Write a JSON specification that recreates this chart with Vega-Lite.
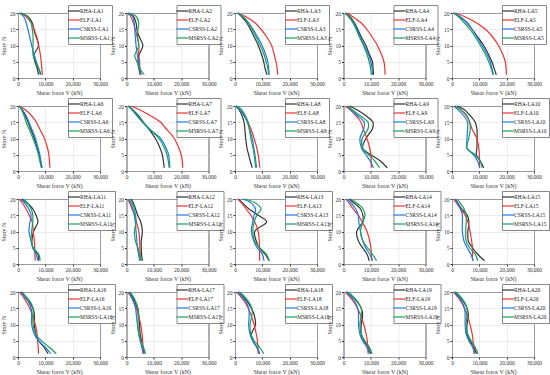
{
"$schema":"https://vega.github.io/schema/vega-lite/v6.json",
"padding":{"left":0,"top":4,"right":0,"bottom":0},
"config":{
"font":"Liberation Serif",
"view":{"stroke":"#333","strokeWidth":1},
"axis":{"labelFont":"Liberation Serif","titleFont":"Liberation Serif","labelFontSize":5.5,"titleFontSize":6,"titleFontWeight":"normal","labelColor":"#333","titleColor":"#333","grid":true,"gridColor":"#e0e0e0","gridWidth":0.6,"domain":false,"tickSize":2,"tickColor":"#333","labelPadding":1,"titlePadding":3,"labelFlush":false},
"legend":{"orient":"none","legendX":50,"legendY":-8,"labelFont":"Liberation Serif","labelFontSize":5.5,"labelColor":"#222","symbolType":"M-2,0H2","symbolSize":36,"symbolStrokeWidth":1.6,"fillColor":"white","strokeColor":"#888","padding":2,"rowPadding":1,"labelOffset":2,"labelLimit":60},
"line":{"strokeWidth":1.2,"interpolate":"catmull-rom"}
},
"data":{"values":[
{"p":1,"s":"RHA","n":1,"v":7500},{"p":1,"s":"RHA","n":3,"v":7000},{"p":1,"s":"RHA","n":5,"v":6200},{"p":1,"s":"RHA","n":7,"v":5800},{"p":1,"s":"RHA","n":10,"v":7500},{"p":1,"s":"RHA","n":13,"v":6500},{"p":1,"s":"RHA","n":15,"v":5800},{"p":1,"s":"RHA","n":17,"v":5200},{"p":1,"s":"RHA","n":19,"v":3500},{"p":1,"s":"RHA","n":20,"v":1000},
{"p":1,"s":"ELF","n":1,"v":8900},{"p":1,"s":"ELF","n":3,"v":8700},{"p":1,"s":"ELF","n":5,"v":8500},{"p":1,"s":"ELF","n":7,"v":8200},{"p":1,"s":"ELF","n":10,"v":7600},{"p":1,"s":"ELF","n":13,"v":6700},{"p":1,"s":"ELF","n":15,"v":5900},{"p":1,"s":"ELF","n":17,"v":4800},{"p":1,"s":"ELF","n":19,"v":2800},{"p":1,"s":"ELF","n":20,"v":500},
{"p":1,"s":"CSRSS","n":1,"v":8200},{"p":1,"s":"CSRSS","n":3,"v":7500},{"p":1,"s":"CSRSS","n":5,"v":6700},{"p":1,"s":"CSRSS","n":7,"v":6000},{"p":1,"s":"CSRSS","n":10,"v":5000},{"p":1,"s":"CSRSS","n":13,"v":4200},{"p":1,"s":"CSRSS","n":15,"v":3600},{"p":1,"s":"CSRSS","n":17,"v":3000},{"p":1,"s":"CSRSS","n":19,"v":2000},{"p":1,"s":"CSRSS","n":20,"v":500},
{"p":1,"s":"MSRSS","n":1,"v":8500},{"p":1,"s":"MSRSS","n":3,"v":7600},{"p":1,"s":"MSRSS","n":5,"v":6500},{"p":1,"s":"MSRSS","n":7,"v":5500},{"p":1,"s":"MSRSS","n":10,"v":5500},{"p":1,"s":"MSRSS","n":13,"v":5500},{"p":1,"s":"MSRSS","n":15,"v":5200},{"p":1,"s":"MSRSS","n":17,"v":4800},{"p":1,"s":"MSRSS","n":19,"v":3500},{"p":1,"s":"MSRSS","n":20,"v":800},
{"p":2,"s":"RHA","n":1,"v":5000},{"p":2,"s":"RHA","n":3,"v":4500},{"p":2,"s":"RHA","n":5,"v":4200},{"p":2,"s":"RHA","n":7,"v":4500},{"p":2,"s":"RHA","n":10,"v":6000},{"p":2,"s":"RHA","n":13,"v":4500},{"p":2,"s":"RHA","n":15,"v":3800},{"p":2,"s":"RHA","n":17,"v":3500},{"p":2,"s":"RHA","n":19,"v":2500},{"p":2,"s":"RHA","n":20,"v":500},
{"p":2,"s":"ELF","n":1,"v":5000},{"p":2,"s":"ELF","n":3,"v":4900},{"p":2,"s":"ELF","n":5,"v":4800},{"p":2,"s":"ELF","n":7,"v":4500},{"p":2,"s":"ELF","n":10,"v":4500},{"p":2,"s":"ELF","n":13,"v":3800},{"p":2,"s":"ELF","n":15,"v":3200},{"p":2,"s":"ELF","n":17,"v":2500},{"p":2,"s":"ELF","n":19,"v":1500},{"p":2,"s":"ELF","n":20,"v":300},
{"p":2,"s":"CSRSS","n":1,"v":5500},{"p":2,"s":"CSRSS","n":3,"v":4800},{"p":2,"s":"CSRSS","n":5,"v":4500},{"p":2,"s":"CSRSS","n":7,"v":4000},{"p":2,"s":"CSRSS","n":10,"v":3500},{"p":2,"s":"CSRSS","n":13,"v":3200},{"p":2,"s":"CSRSS","n":15,"v":3000},{"p":2,"s":"CSRSS","n":17,"v":2800},{"p":2,"s":"CSRSS","n":19,"v":2200},{"p":2,"s":"CSRSS","n":20,"v":500},
{"p":2,"s":"MSRSS","n":1,"v":6500},{"p":2,"s":"MSRSS","n":3,"v":4800},{"p":2,"s":"MSRSS","n":5,"v":3800},{"p":2,"s":"MSRSS","n":7,"v":3000},{"p":2,"s":"MSRSS","n":10,"v":4500},{"p":2,"s":"MSRSS","n":13,"v":4000},{"p":2,"s":"MSRSS","n":15,"v":4200},{"p":2,"s":"MSRSS","n":17,"v":4500},{"p":2,"s":"MSRSS","n":19,"v":3500},{"p":2,"s":"MSRSS","n":20,"v":1000},
{"p":3,"s":"RHA","n":1,"v":11700},{"p":3,"s":"RHA","n":3,"v":11000},{"p":3,"s":"RHA","n":5,"v":10500},{"p":3,"s":"RHA","n":7,"v":9800},{"p":3,"s":"RHA","n":10,"v":8500},{"p":3,"s":"RHA","n":13,"v":6800},{"p":3,"s":"RHA","n":15,"v":5600},{"p":3,"s":"RHA","n":17,"v":4300},{"p":3,"s":"RHA","n":19,"v":2300},{"p":3,"s":"RHA","n":20,"v":1000},
{"p":3,"s":"ELF","n":1,"v":15600},{"p":3,"s":"ELF","n":3,"v":15400},{"p":3,"s":"ELF","n":5,"v":15000},{"p":3,"s":"ELF","n":7,"v":14400},{"p":3,"s":"ELF","n":10,"v":13400},{"p":3,"s":"ELF","n":13,"v":11300},{"p":3,"s":"ELF","n":15,"v":9500},{"p":3,"s":"ELF","n":17,"v":7300},{"p":3,"s":"ELF","n":19,"v":3600},{"p":3,"s":"ELF","n":20,"v":1000},
{"p":3,"s":"CSRSS","n":1,"v":12500},{"p":3,"s":"CSRSS","n":3,"v":12300},{"p":3,"s":"CSRSS","n":5,"v":12000},{"p":3,"s":"CSRSS","n":7,"v":11300},{"p":3,"s":"CSRSS","n":10,"v":9900},{"p":3,"s":"CSRSS","n":13,"v":8000},{"p":3,"s":"CSRSS","n":15,"v":6600},{"p":3,"s":"CSRSS","n":17,"v":4900},{"p":3,"s":"CSRSS","n":19,"v":2600},{"p":3,"s":"CSRSS","n":20,"v":800},
{"p":3,"s":"MSRSS","n":1,"v":12300},{"p":3,"s":"MSRSS","n":3,"v":12000},{"p":3,"s":"MSRSS","n":5,"v":11400},{"p":3,"s":"MSRSS","n":7,"v":10700},{"p":3,"s":"MSRSS","n":10,"v":9200},{"p":3,"s":"MSRSS","n":13,"v":7500},{"p":3,"s":"MSRSS","n":15,"v":6200},{"p":3,"s":"MSRSS","n":17,"v":4900},{"p":3,"s":"MSRSS","n":19,"v":2800},{"p":3,"s":"MSRSS","n":20,"v":1000},
{"p":4,"s":"RHA","n":1,"v":11000},{"p":4,"s":"RHA","n":3,"v":10800},{"p":4,"s":"RHA","n":5,"v":10600},{"p":4,"s":"RHA","n":7,"v":9600},{"p":4,"s":"RHA","n":10,"v":8200},{"p":4,"s":"RHA","n":13,"v":6300},{"p":4,"s":"RHA","n":15,"v":5200},{"p":4,"s":"RHA","n":17,"v":4000},{"p":4,"s":"RHA","n":19,"v":2200},{"p":4,"s":"RHA","n":20,"v":800},
{"p":4,"s":"ELF","n":1,"v":15200},{"p":4,"s":"ELF","n":3,"v":15100},{"p":4,"s":"ELF","n":5,"v":14800},{"p":4,"s":"ELF","n":7,"v":14000},{"p":4,"s":"ELF","n":10,"v":12400},{"p":4,"s":"ELF","n":13,"v":10200},{"p":4,"s":"ELF","n":15,"v":8500},{"p":4,"s":"ELF","n":17,"v":6400},{"p":4,"s":"ELF","n":19,"v":3100},{"p":4,"s":"ELF","n":20,"v":1500},
{"p":4,"s":"CSRSS","n":1,"v":10600},{"p":4,"s":"CSRSS","n":3,"v":10400},{"p":4,"s":"CSRSS","n":5,"v":10000},{"p":4,"s":"CSRSS","n":7,"v":9200},{"p":4,"s":"CSRSS","n":10,"v":7600},{"p":4,"s":"CSRSS","n":13,"v":5900},{"p":4,"s":"CSRSS","n":15,"v":4900},{"p":4,"s":"CSRSS","n":17,"v":3700},{"p":4,"s":"CSRSS","n":19,"v":1800},{"p":4,"s":"CSRSS","n":20,"v":500},
{"p":4,"s":"MSRSS","n":1,"v":10200},{"p":4,"s":"MSRSS","n":3,"v":9900},{"p":4,"s":"MSRSS","n":5,"v":9400},{"p":4,"s":"MSRSS","n":7,"v":8700},{"p":4,"s":"MSRSS","n":10,"v":7300},{"p":4,"s":"MSRSS","n":13,"v":5600},{"p":4,"s":"MSRSS","n":15,"v":4600},{"p":4,"s":"MSRSS","n":17,"v":3400},{"p":4,"s":"MSRSS","n":19,"v":1800},{"p":4,"s":"MSRSS","n":20,"v":600},
{"p":5,"s":"RHA","n":1,"v":16200},{"p":5,"s":"RHA","n":3,"v":15400},{"p":5,"s":"RHA","n":5,"v":14600},{"p":5,"s":"RHA","n":7,"v":13500},{"p":5,"s":"RHA","n":10,"v":11600},{"p":5,"s":"RHA","n":13,"v":9100},{"p":5,"s":"RHA","n":15,"v":7300},{"p":5,"s":"RHA","n":17,"v":5500},{"p":5,"s":"RHA","n":19,"v":2400},{"p":5,"s":"RHA","n":20,"v":500},
{"p":5,"s":"ELF","n":1,"v":19900},{"p":5,"s":"ELF","n":3,"v":19800},{"p":5,"s":"ELF","n":5,"v":19500},{"p":5,"s":"ELF","n":7,"v":18700},{"p":5,"s":"ELF","n":10,"v":17000},{"p":5,"s":"ELF","n":13,"v":14500},{"p":5,"s":"ELF","n":15,"v":12200},{"p":5,"s":"ELF","n":17,"v":8900},{"p":5,"s":"ELF","n":19,"v":4300},{"p":5,"s":"ELF","n":20,"v":1200},
{"p":5,"s":"CSRSS","n":1,"v":15200},{"p":5,"s":"CSRSS","n":3,"v":14600},{"p":5,"s":"CSRSS","n":5,"v":14000},{"p":5,"s":"CSRSS","n":7,"v":13000},{"p":5,"s":"CSRSS","n":10,"v":11000},{"p":5,"s":"CSRSS","n":13,"v":8800},{"p":5,"s":"CSRSS","n":15,"v":7300},{"p":5,"s":"CSRSS","n":17,"v":5500},{"p":5,"s":"CSRSS","n":19,"v":2800},{"p":5,"s":"CSRSS","n":20,"v":600},
{"p":5,"s":"MSRSS","n":1,"v":15000},{"p":5,"s":"MSRSS","n":3,"v":14300},{"p":5,"s":"MSRSS","n":5,"v":13400},{"p":5,"s":"MSRSS","n":7,"v":12400},{"p":5,"s":"MSRSS","n":10,"v":10400},{"p":5,"s":"MSRSS","n":13,"v":8200},{"p":5,"s":"MSRSS","n":15,"v":6500},{"p":5,"s":"MSRSS","n":17,"v":4500},{"p":5,"s":"MSRSS","n":19,"v":2200},{"p":5,"s":"MSRSS","n":20,"v":600},
{"p":6,"s":"RHA","n":1,"v":8800},{"p":6,"s":"RHA","n":3,"v":8200},{"p":6,"s":"RHA","n":5,"v":7700},{"p":6,"s":"RHA","n":7,"v":7000},{"p":6,"s":"RHA","n":10,"v":6000},{"p":6,"s":"RHA","n":13,"v":4600},{"p":6,"s":"RHA","n":15,"v":3700},{"p":6,"s":"RHA","n":17,"v":2700},{"p":6,"s":"RHA","n":19,"v":1400},{"p":6,"s":"RHA","n":20,"v":500},
{"p":6,"s":"ELF","n":1,"v":11700},{"p":6,"s":"ELF","n":3,"v":11500},{"p":6,"s":"ELF","n":5,"v":11300},{"p":6,"s":"ELF","n":7,"v":10800},{"p":6,"s":"ELF","n":10,"v":9700},{"p":6,"s":"ELF","n":13,"v":7900},{"p":6,"s":"ELF","n":15,"v":6700},{"p":6,"s":"ELF","n":17,"v":5000},{"p":6,"s":"ELF","n":19,"v":2400},{"p":6,"s":"ELF","n":20,"v":400},
{"p":6,"s":"CSRSS","n":1,"v":8800},{"p":6,"s":"CSRSS","n":3,"v":8400},{"p":6,"s":"CSRSS","n":5,"v":8000},{"p":6,"s":"CSRSS","n":7,"v":7400},{"p":6,"s":"CSRSS","n":10,"v":6400},{"p":6,"s":"CSRSS","n":13,"v":5000},{"p":6,"s":"CSRSS","n":15,"v":4000},{"p":6,"s":"CSRSS","n":17,"v":3000},{"p":6,"s":"CSRSS","n":19,"v":1500},{"p":6,"s":"CSRSS","n":20,"v":400},
{"p":6,"s":"MSRSS","n":1,"v":8500},{"p":6,"s":"MSRSS","n":3,"v":8000},{"p":6,"s":"MSRSS","n":5,"v":7500},{"p":6,"s":"MSRSS","n":7,"v":6800},{"p":6,"s":"MSRSS","n":10,"v":5500},{"p":6,"s":"MSRSS","n":13,"v":4000},{"p":6,"s":"MSRSS","n":15,"v":3000},{"p":6,"s":"MSRSS","n":17,"v":2200},{"p":6,"s":"MSRSS","n":19,"v":1200},{"p":6,"s":"MSRSS","n":20,"v":400},
{"p":7,"s":"RHA","n":1,"v":13800},{"p":7,"s":"RHA","n":3,"v":13500},{"p":7,"s":"RHA","n":5,"v":13100},{"p":7,"s":"RHA","n":7,"v":12300},{"p":7,"s":"RHA","n":10,"v":10600},{"p":7,"s":"RHA","n":13,"v":8100},{"p":7,"s":"RHA","n":15,"v":6200},{"p":7,"s":"RHA","n":17,"v":4400},{"p":7,"s":"RHA","n":19,"v":2100},{"p":7,"s":"RHA","n":20,"v":800},
{"p":7,"s":"ELF","n":1,"v":20600},{"p":7,"s":"ELF","n":3,"v":20400},{"p":7,"s":"ELF","n":5,"v":20000},{"p":7,"s":"ELF","n":7,"v":19200},{"p":7,"s":"ELF","n":10,"v":17500},{"p":7,"s":"ELF","n":13,"v":14500},{"p":7,"s":"ELF","n":15,"v":12500},{"p":7,"s":"ELF","n":17,"v":8800},{"p":7,"s":"ELF","n":19,"v":4400},{"p":7,"s":"ELF","n":20,"v":1600},
{"p":7,"s":"CSRSS","n":1,"v":15900},{"p":7,"s":"CSRSS","n":3,"v":15700},{"p":7,"s":"CSRSS","n":5,"v":15400},{"p":7,"s":"CSRSS","n":7,"v":14500},{"p":7,"s":"CSRSS","n":10,"v":12500},{"p":7,"s":"CSRSS","n":13,"v":8100},{"p":7,"s":"CSRSS","n":15,"v":5900},{"p":7,"s":"CSRSS","n":17,"v":3800},{"p":7,"s":"CSRSS","n":19,"v":1800},{"p":7,"s":"CSRSS","n":20,"v":500},
{"p":7,"s":"MSRSS","n":1,"v":15600},{"p":7,"s":"MSRSS","n":3,"v":15300},{"p":7,"s":"MSRSS","n":5,"v":14800},{"p":7,"s":"MSRSS","n":7,"v":13900},{"p":7,"s":"MSRSS","n":10,"v":11900},{"p":7,"s":"MSRSS","n":13,"v":8400},{"p":7,"s":"MSRSS","n":15,"v":6000},{"p":7,"s":"MSRSS","n":17,"v":4000},{"p":7,"s":"MSRSS","n":19,"v":2000},{"p":7,"s":"MSRSS","n":20,"v":600},
{"p":8,"s":"RHA","n":1,"v":6300},{"p":8,"s":"RHA","n":3,"v":5600},{"p":8,"s":"RHA","n":5,"v":5000},{"p":8,"s":"RHA","n":7,"v":4400},{"p":8,"s":"RHA","n":10,"v":3900},{"p":8,"s":"RHA","n":13,"v":3600},{"p":8,"s":"RHA","n":15,"v":3300},{"p":8,"s":"RHA","n":17,"v":2600},{"p":8,"s":"RHA","n":19,"v":1300},{"p":8,"s":"RHA","n":20,"v":300},
{"p":8,"s":"ELF","n":1,"v":9100},{"p":8,"s":"ELF","n":3,"v":8800},{"p":8,"s":"ELF","n":5,"v":8500},{"p":8,"s":"ELF","n":7,"v":8000},{"p":8,"s":"ELF","n":10,"v":7000},{"p":8,"s":"ELF","n":13,"v":5800},{"p":8,"s":"ELF","n":15,"v":4800},{"p":8,"s":"ELF","n":17,"v":3500},{"p":8,"s":"ELF","n":19,"v":1600},{"p":8,"s":"ELF","n":20,"v":400},
{"p":8,"s":"CSRSS","n":1,"v":7900},{"p":8,"s":"CSRSS","n":3,"v":7600},{"p":8,"s":"CSRSS","n":5,"v":7300},{"p":8,"s":"CSRSS","n":7,"v":6900},{"p":8,"s":"CSRSS","n":10,"v":6300},{"p":8,"s":"CSRSS","n":13,"v":5300},{"p":8,"s":"CSRSS","n":15,"v":4500},{"p":8,"s":"CSRSS","n":17,"v":3300},{"p":8,"s":"CSRSS","n":19,"v":1500},{"p":8,"s":"CSRSS","n":20,"v":400},
{"p":8,"s":"MSRSS","n":1,"v":7500},{"p":8,"s":"MSRSS","n":3,"v":7300},{"p":8,"s":"MSRSS","n":5,"v":7000},{"p":8,"s":"MSRSS","n":7,"v":6600},{"p":8,"s":"MSRSS","n":10,"v":5800},{"p":8,"s":"MSRSS","n":13,"v":5200},{"p":8,"s":"MSRSS","n":15,"v":4800},{"p":8,"s":"MSRSS","n":17,"v":3800},{"p":8,"s":"MSRSS","n":19,"v":2300},{"p":8,"s":"MSRSS","n":20,"v":600},
{"p":9,"s":"RHA","n":1,"v":16000},{"p":9,"s":"RHA","n":3,"v":13600},{"p":9,"s":"RHA","n":5,"v":10000},{"p":9,"s":"RHA","n":7,"v":7000},{"p":9,"s":"RHA","n":10,"v":8200},{"p":9,"s":"RHA","n":13,"v":10600},{"p":9,"s":"RHA","n":15,"v":10800},{"p":9,"s":"RHA","n":17,"v":8200},{"p":9,"s":"RHA","n":19,"v":4600},{"p":9,"s":"RHA","n":20,"v":2200},
{"p":9,"s":"ELF","n":1,"v":10200},{"p":9,"s":"ELF","n":3,"v":10100},{"p":9,"s":"ELF","n":5,"v":10000},{"p":9,"s":"ELF","n":7,"v":9600},{"p":9,"s":"ELF","n":10,"v":8600},{"p":9,"s":"ELF","n":13,"v":7200},{"p":9,"s":"ELF","n":15,"v":6400},{"p":9,"s":"ELF","n":17,"v":4600},{"p":9,"s":"ELF","n":19,"v":2200},{"p":9,"s":"ELF","n":20,"v":400},
{"p":9,"s":"CSRSS","n":1,"v":11000},{"p":9,"s":"CSRSS","n":3,"v":9800},{"p":9,"s":"CSRSS","n":5,"v":8200},{"p":9,"s":"CSRSS","n":7,"v":6600},{"p":9,"s":"CSRSS","n":10,"v":6000},{"p":9,"s":"CSRSS","n":13,"v":7400},{"p":9,"s":"CSRSS","n":15,"v":7600},{"p":9,"s":"CSRSS","n":17,"v":5200},{"p":9,"s":"CSRSS","n":19,"v":2500},{"p":9,"s":"CSRSS","n":20,"v":1300},
{"p":9,"s":"MSRSS","n":1,"v":13200},{"p":9,"s":"MSRSS","n":3,"v":11500},{"p":9,"s":"MSRSS","n":5,"v":9200},{"p":9,"s":"MSRSS","n":7,"v":7000},{"p":9,"s":"MSRSS","n":10,"v":6800},{"p":9,"s":"MSRSS","n":13,"v":9000},{"p":9,"s":"MSRSS","n":15,"v":9000},{"p":9,"s":"MSRSS","n":17,"v":6100},{"p":9,"s":"MSRSS","n":19,"v":3000},{"p":9,"s":"MSRSS","n":20,"v":1600},
{"p":10,"s":"RHA","n":1,"v":11600},{"p":10,"s":"RHA","n":3,"v":10400},{"p":10,"s":"RHA","n":5,"v":8900},{"p":10,"s":"RHA","n":7,"v":9100},{"p":10,"s":"RHA","n":10,"v":9200},{"p":10,"s":"RHA","n":13,"v":9100},{"p":10,"s":"RHA","n":15,"v":8500},{"p":10,"s":"RHA","n":17,"v":6700},{"p":10,"s":"RHA","n":19,"v":4300},{"p":10,"s":"RHA","n":20,"v":1800},
{"p":10,"s":"ELF","n":1,"v":10100},{"p":10,"s":"ELF","n":3,"v":10100},{"p":10,"s":"ELF","n":5,"v":10000},{"p":10,"s":"ELF","n":7,"v":9800},{"p":10,"s":"ELF","n":10,"v":9100},{"p":10,"s":"ELF","n":13,"v":7300},{"p":10,"s":"ELF","n":15,"v":6500},{"p":10,"s":"ELF","n":17,"v":5200},{"p":10,"s":"ELF","n":19,"v":3000},{"p":10,"s":"ELF","n":20,"v":1200},
{"p":10,"s":"CSRSS","n":1,"v":10100},{"p":10,"s":"CSRSS","n":3,"v":9400},{"p":10,"s":"CSRSS","n":5,"v":7900},{"p":10,"s":"CSRSS","n":7,"v":5500},{"p":10,"s":"CSRSS","n":10,"v":5500},{"p":10,"s":"CSRSS","n":13,"v":5700},{"p":10,"s":"CSRSS","n":15,"v":5700},{"p":10,"s":"CSRSS","n":17,"v":4300},{"p":10,"s":"CSRSS","n":19,"v":2000},{"p":10,"s":"CSRSS","n":20,"v":600},
{"p":10,"s":"MSRSS","n":1,"v":11000},{"p":10,"s":"MSRSS","n":3,"v":10400},{"p":10,"s":"MSRSS","n":5,"v":8500},{"p":10,"s":"MSRSS","n":7,"v":5500},{"p":10,"s":"MSRSS","n":10,"v":6100},{"p":10,"s":"MSRSS","n":13,"v":6700},{"p":10,"s":"MSRSS","n":15,"v":6500},{"p":10,"s":"MSRSS","n":17,"v":5500},{"p":10,"s":"MSRSS","n":19,"v":3000},{"p":10,"s":"MSRSS","n":20,"v":1200},
{"p":11,"s":"RHA","n":1,"v":7600},{"p":11,"s":"RHA","n":3,"v":7300},{"p":11,"s":"RHA","n":5,"v":5400},{"p":11,"s":"RHA","n":7,"v":5100},{"p":11,"s":"RHA","n":10,"v":5700},{"p":11,"s":"RHA","n":13,"v":7300},{"p":11,"s":"RHA","n":15,"v":6600},{"p":11,"s":"RHA","n":17,"v":5400},{"p":11,"s":"RHA","n":19,"v":3000},{"p":11,"s":"RHA","n":20,"v":1400},
{"p":11,"s":"ELF","n":1,"v":6300},{"p":11,"s":"ELF","n":3,"v":6200},{"p":11,"s":"ELF","n":5,"v":6100},{"p":11,"s":"ELF","n":7,"v":6000},{"p":11,"s":"ELF","n":10,"v":5600},{"p":11,"s":"ELF","n":13,"v":5200},{"p":11,"s":"ELF","n":15,"v":4100},{"p":11,"s":"ELF","n":17,"v":2900},{"p":11,"s":"ELF","n":19,"v":1400},{"p":11,"s":"ELF","n":20,"v":400},
{"p":11,"s":"CSRSS","n":1,"v":7300},{"p":11,"s":"CSRSS","n":3,"v":6600},{"p":11,"s":"CSRSS","n":5,"v":5400},{"p":11,"s":"CSRSS","n":7,"v":4800},{"p":11,"s":"CSRSS","n":10,"v":4000},{"p":11,"s":"CSRSS","n":13,"v":4400},{"p":11,"s":"CSRSS","n":15,"v":4800},{"p":11,"s":"CSRSS","n":17,"v":3900},{"p":11,"s":"CSRSS","n":19,"v":2200},{"p":11,"s":"CSRSS","n":20,"v":1000},
{"p":11,"s":"MSRSS","n":1,"v":8100},{"p":11,"s":"MSRSS","n":3,"v":7600},{"p":11,"s":"MSRSS","n":5,"v":5600},{"p":11,"s":"MSRSS","n":7,"v":4800},{"p":11,"s":"MSRSS","n":10,"v":5000},{"p":11,"s":"MSRSS","n":13,"v":5400},{"p":11,"s":"MSRSS","n":15,"v":5400},{"p":11,"s":"MSRSS","n":17,"v":4800},{"p":11,"s":"MSRSS","n":19,"v":3200},{"p":11,"s":"MSRSS","n":20,"v":1900},
{"p":12,"s":"RHA","n":1,"v":5800},{"p":12,"s":"RHA","n":3,"v":5500},{"p":12,"s":"RHA","n":5,"v":5400},{"p":12,"s":"RHA","n":7,"v":5400},{"p":12,"s":"RHA","n":10,"v":5800},{"p":12,"s":"RHA","n":13,"v":5200},{"p":12,"s":"RHA","n":15,"v":4100},{"p":12,"s":"RHA","n":17,"v":3300},{"p":12,"s":"RHA","n":19,"v":2400},{"p":12,"s":"RHA","n":20,"v":1600},
{"p":12,"s":"ELF","n":1,"v":5000},{"p":12,"s":"ELF","n":3,"v":5000},{"p":12,"s":"ELF","n":5,"v":4900},{"p":12,"s":"ELF","n":7,"v":4800},{"p":12,"s":"ELF","n":10,"v":4500},{"p":12,"s":"ELF","n":13,"v":3600},{"p":12,"s":"ELF","n":15,"v":2900},{"p":12,"s":"ELF","n":17,"v":2000},{"p":12,"s":"ELF","n":19,"v":1000},{"p":12,"s":"ELF","n":20,"v":400},
{"p":12,"s":"CSRSS","n":1,"v":4800},{"p":12,"s":"CSRSS","n":3,"v":4400},{"p":12,"s":"CSRSS","n":5,"v":4000},{"p":12,"s":"CSRSS","n":7,"v":3800},{"p":12,"s":"CSRSS","n":10,"v":3500},{"p":12,"s":"CSRSS","n":13,"v":3200},{"p":12,"s":"CSRSS","n":15,"v":2900},{"p":12,"s":"CSRSS","n":17,"v":2300},{"p":12,"s":"CSRSS","n":19,"v":1500},{"p":12,"s":"CSRSS","n":20,"v":800},
{"p":12,"s":"MSRSS","n":1,"v":5400},{"p":12,"s":"MSRSS","n":3,"v":4800},{"p":12,"s":"MSRSS","n":5,"v":4200},{"p":12,"s":"MSRSS","n":7,"v":3300},{"p":12,"s":"MSRSS","n":10,"v":2900},{"p":12,"s":"MSRSS","n":13,"v":3500},{"p":12,"s":"MSRSS","n":15,"v":3300},{"p":12,"s":"MSRSS","n":17,"v":2900},{"p":12,"s":"MSRSS","n":19,"v":2000},{"p":12,"s":"MSRSS","n":20,"v":1300},
{"p":13,"s":"RHA","n":1,"v":12500},{"p":13,"s":"RHA","n":3,"v":11000},{"p":13,"s":"RHA","n":5,"v":8800},{"p":13,"s":"RHA","n":7,"v":7800},{"p":13,"s":"RHA","n":10,"v":7200},{"p":13,"s":"RHA","n":13,"v":11600},{"p":13,"s":"RHA","n":15,"v":8500},{"p":13,"s":"RHA","n":17,"v":5000},{"p":13,"s":"RHA","n":19,"v":2500},{"p":13,"s":"RHA","n":20,"v":1200},
{"p":13,"s":"ELF","n":1,"v":9000},{"p":13,"s":"ELF","n":3,"v":9000},{"p":13,"s":"ELF","n":5,"v":9000},{"p":13,"s":"ELF","n":7,"v":8900},{"p":13,"s":"ELF","n":10,"v":8500},{"p":13,"s":"ELF","n":13,"v":7200},{"p":13,"s":"ELF","n":15,"v":5800},{"p":13,"s":"ELF","n":17,"v":4000},{"p":13,"s":"ELF","n":19,"v":2200},{"p":13,"s":"ELF","n":20,"v":1000},
{"p":13,"s":"CSRSS","n":1,"v":10600},{"p":13,"s":"CSRSS","n":3,"v":10000},{"p":13,"s":"CSRSS","n":5,"v":8100},{"p":13,"s":"CSRSS","n":7,"v":6900},{"p":13,"s":"CSRSS","n":10,"v":6000},{"p":13,"s":"CSRSS","n":13,"v":6500},{"p":13,"s":"CSRSS","n":15,"v":7000},{"p":13,"s":"CSRSS","n":17,"v":7500},{"p":13,"s":"CSRSS","n":19,"v":5500},{"p":13,"s":"CSRSS","n":20,"v":2500},
{"p":13,"s":"MSRSS","n":1,"v":12500},{"p":13,"s":"MSRSS","n":3,"v":11500},{"p":13,"s":"MSRSS","n":5,"v":9000},{"p":13,"s":"MSRSS","n":7,"v":7200},{"p":13,"s":"MSRSS","n":10,"v":6500},{"p":13,"s":"MSRSS","n":13,"v":7000},{"p":13,"s":"MSRSS","n":15,"v":8000},{"p":13,"s":"MSRSS","n":17,"v":9500},{"p":13,"s":"MSRSS","n":19,"v":7000},{"p":13,"s":"MSRSS","n":20,"v":3100},
{"p":14,"s":"RHA","n":1,"v":9400},{"p":14,"s":"RHA","n":3,"v":8600},{"p":14,"s":"RHA","n":5,"v":7000},{"p":14,"s":"RHA","n":7,"v":5500},{"p":14,"s":"RHA","n":10,"v":4800},{"p":14,"s":"RHA","n":13,"v":7100},{"p":14,"s":"RHA","n":15,"v":7100},{"p":14,"s":"RHA","n":17,"v":6200},{"p":14,"s":"RHA","n":19,"v":3500},{"p":14,"s":"RHA","n":20,"v":2100},
{"p":14,"s":"ELF","n":1,"v":10400},{"p":14,"s":"ELF","n":3,"v":10200},{"p":14,"s":"ELF","n":5,"v":10000},{"p":14,"s":"ELF","n":7,"v":9600},{"p":14,"s":"ELF","n":10,"v":8600},{"p":14,"s":"ELF","n":13,"v":6800},{"p":14,"s":"ELF","n":15,"v":5400},{"p":14,"s":"ELF","n":17,"v":3500},{"p":14,"s":"ELF","n":19,"v":1800},{"p":14,"s":"ELF","n":20,"v":900},
{"p":14,"s":"CSRSS","n":1,"v":10600},{"p":14,"s":"CSRSS","n":3,"v":9600},{"p":14,"s":"CSRSS","n":5,"v":8100},{"p":14,"s":"CSRSS","n":7,"v":7100},{"p":14,"s":"CSRSS","n":10,"v":6200},{"p":14,"s":"CSRSS","n":13,"v":5600},{"p":14,"s":"CSRSS","n":15,"v":5400},{"p":14,"s":"CSRSS","n":17,"v":4400},{"p":14,"s":"CSRSS","n":19,"v":2500},{"p":14,"s":"CSRSS","n":20,"v":1200},
{"p":14,"s":"MSRSS","n":1,"v":12100},{"p":14,"s":"MSRSS","n":3,"v":10600},{"p":14,"s":"MSRSS","n":5,"v":8800},{"p":14,"s":"MSRSS","n":7,"v":7100},{"p":14,"s":"MSRSS","n":10,"v":6200},{"p":14,"s":"MSRSS","n":13,"v":7100},{"p":14,"s":"MSRSS","n":15,"v":7900},{"p":14,"s":"MSRSS","n":17,"v":7100},{"p":14,"s":"MSRSS","n":19,"v":4500},{"p":14,"s":"MSRSS","n":20,"v":2500},
{"p":15,"s":"RHA","n":1,"v":11900},{"p":15,"s":"RHA","n":3,"v":9400},{"p":15,"s":"RHA","n":5,"v":7500},{"p":15,"s":"RHA","n":7,"v":6000},{"p":15,"s":"RHA","n":10,"v":5800},{"p":15,"s":"RHA","n":13,"v":6200},{"p":15,"s":"RHA","n":15,"v":5600},{"p":15,"s":"RHA","n":17,"v":3500},{"p":15,"s":"RHA","n":19,"v":2000},{"p":15,"s":"RHA","n":20,"v":1200},
{"p":15,"s":"ELF","n":1,"v":7500},{"p":15,"s":"ELF","n":3,"v":7500},{"p":15,"s":"ELF","n":5,"v":7500},{"p":15,"s":"ELF","n":7,"v":7200},{"p":15,"s":"ELF","n":10,"v":6600},{"p":15,"s":"ELF","n":13,"v":5800},{"p":15,"s":"ELF","n":15,"v":4800},{"p":15,"s":"ELF","n":17,"v":3100},{"p":15,"s":"ELF","n":19,"v":1400},{"p":15,"s":"ELF","n":20,"v":600},
{"p":15,"s":"CSRSS","n":1,"v":7800},{"p":15,"s":"CSRSS","n":3,"v":6900},{"p":15,"s":"CSRSS","n":5,"v":5600},{"p":15,"s":"CSRSS","n":7,"v":4400},{"p":15,"s":"CSRSS","n":10,"v":3800},{"p":15,"s":"CSRSS","n":13,"v":3800},{"p":15,"s":"CSRSS","n":15,"v":3800},{"p":15,"s":"CSRSS","n":17,"v":3100},{"p":15,"s":"CSRSS","n":19,"v":1800},{"p":15,"s":"CSRSS","n":20,"v":1000},
{"p":15,"s":"MSRSS","n":1,"v":9400},{"p":15,"s":"MSRSS","n":3,"v":8500},{"p":15,"s":"MSRSS","n":5,"v":6500},{"p":15,"s":"MSRSS","n":7,"v":5200},{"p":15,"s":"MSRSS","n":10,"v":5000},{"p":15,"s":"MSRSS","n":13,"v":5200},{"p":15,"s":"MSRSS","n":15,"v":5200},{"p":15,"s":"MSRSS","n":17,"v":4400},{"p":15,"s":"MSRSS","n":19,"v":2800},{"p":15,"s":"MSRSS","n":20,"v":1900},
{"p":16,"s":"RHA","n":1,"v":11000},{"p":16,"s":"RHA","n":3,"v":9500},{"p":16,"s":"RHA","n":5,"v":7500},{"p":16,"s":"RHA","n":7,"v":6500},{"p":16,"s":"RHA","n":10,"v":6000},{"p":16,"s":"RHA","n":13,"v":6000},{"p":16,"s":"RHA","n":15,"v":5500},{"p":16,"s":"RHA","n":17,"v":4000},{"p":16,"s":"RHA","n":19,"v":2000},{"p":16,"s":"RHA","n":20,"v":1000},
{"p":16,"s":"ELF","n":1,"v":7500},{"p":16,"s":"ELF","n":3,"v":7400},{"p":16,"s":"ELF","n":5,"v":7200},{"p":16,"s":"ELF","n":7,"v":7000},{"p":16,"s":"ELF","n":10,"v":6300},{"p":16,"s":"ELF","n":13,"v":5200},{"p":16,"s":"ELF","n":15,"v":4300},{"p":16,"s":"ELF","n":17,"v":3000},{"p":16,"s":"ELF","n":19,"v":1500},{"p":16,"s":"ELF","n":20,"v":500},
{"p":16,"s":"CSRSS","n":1,"v":12000},{"p":16,"s":"CSRSS","n":3,"v":10000},{"p":16,"s":"CSRSS","n":5,"v":7500},{"p":16,"s":"CSRSS","n":7,"v":6000},{"p":16,"s":"CSRSS","n":10,"v":5000},{"p":16,"s":"CSRSS","n":13,"v":5000},{"p":16,"s":"CSRSS","n":15,"v":4800},{"p":16,"s":"CSRSS","n":17,"v":3800},{"p":16,"s":"CSRSS","n":19,"v":2000},{"p":16,"s":"CSRSS","n":20,"v":1000},
{"p":16,"s":"MSRSS","n":1,"v":14000},{"p":16,"s":"MSRSS","n":3,"v":11500},{"p":16,"s":"MSRSS","n":5,"v":8500},{"p":16,"s":"MSRSS","n":7,"v":6500},{"p":16,"s":"MSRSS","n":10,"v":5500},{"p":16,"s":"MSRSS","n":13,"v":5500},{"p":16,"s":"MSRSS","n":15,"v":5500},{"p":16,"s":"MSRSS","n":17,"v":4500},{"p":16,"s":"MSRSS","n":19,"v":2500},{"p":16,"s":"MSRSS","n":20,"v":1500},
{"p":17,"s":"RHA","n":1,"v":6500},{"p":17,"s":"RHA","n":3,"v":6000},{"p":17,"s":"RHA","n":5,"v":5500},{"p":17,"s":"RHA","n":7,"v":5000},{"p":17,"s":"RHA","n":10,"v":4800},{"p":17,"s":"RHA","n":13,"v":4500},{"p":17,"s":"RHA","n":15,"v":4000},{"p":17,"s":"RHA","n":17,"v":3000},{"p":17,"s":"RHA","n":19,"v":1800},{"p":17,"s":"RHA","n":20,"v":1000},
{"p":17,"s":"ELF","n":1,"v":6000},{"p":17,"s":"ELF","n":3,"v":6000},{"p":17,"s":"ELF","n":5,"v":5900},{"p":17,"s":"ELF","n":7,"v":5700},{"p":17,"s":"ELF","n":10,"v":5200},{"p":17,"s":"ELF","n":13,"v":4300},{"p":17,"s":"ELF","n":15,"v":3600},{"p":17,"s":"ELF","n":17,"v":2600},{"p":17,"s":"ELF","n":19,"v":1300},{"p":17,"s":"ELF","n":20,"v":400},
{"p":17,"s":"CSRSS","n":1,"v":6200},{"p":17,"s":"CSRSS","n":3,"v":5600},{"p":17,"s":"CSRSS","n":5,"v":5000},{"p":17,"s":"CSRSS","n":7,"v":4500},{"p":17,"s":"CSRSS","n":10,"v":4000},{"p":17,"s":"CSRSS","n":13,"v":3600},{"p":17,"s":"CSRSS","n":15,"v":3300},{"p":17,"s":"CSRSS","n":17,"v":2600},{"p":17,"s":"CSRSS","n":19,"v":1500},{"p":17,"s":"CSRSS","n":20,"v":800},
{"p":17,"s":"MSRSS","n":1,"v":7000},{"p":17,"s":"MSRSS","n":3,"v":6200},{"p":17,"s":"MSRSS","n":5,"v":5200},{"p":17,"s":"MSRSS","n":7,"v":4500},{"p":17,"s":"MSRSS","n":10,"v":4200},{"p":17,"s":"MSRSS","n":13,"v":4300},{"p":17,"s":"MSRSS","n":15,"v":4200},{"p":17,"s":"MSRSS","n":17,"v":3400},{"p":17,"s":"MSRSS","n":19,"v":2200},{"p":17,"s":"MSRSS","n":20,"v":1200},
{"p":18,"s":"RHA","n":1,"v":9000},{"p":18,"s":"RHA","n":3,"v":8000},{"p":18,"s":"RHA","n":5,"v":6500},{"p":18,"s":"RHA","n":7,"v":6000},{"p":18,"s":"RHA","n":10,"v":7500},{"p":18,"s":"RHA","n":13,"v":7000},{"p":18,"s":"RHA","n":15,"v":6000},{"p":18,"s":"RHA","n":17,"v":4500},{"p":18,"s":"RHA","n":19,"v":2500},{"p":18,"s":"RHA","n":20,"v":1200},
{"p":18,"s":"ELF","n":1,"v":8500},{"p":18,"s":"ELF","n":3,"v":8400},{"p":18,"s":"ELF","n":5,"v":8200},{"p":18,"s":"ELF","n":7,"v":7800},{"p":18,"s":"ELF","n":10,"v":7000},{"p":18,"s":"ELF","n":13,"v":5800},{"p":18,"s":"ELF","n":15,"v":4800},{"p":18,"s":"ELF","n":17,"v":3500},{"p":18,"s":"ELF","n":19,"v":1700},{"p":18,"s":"ELF","n":20,"v":500},
{"p":18,"s":"CSRSS","n":1,"v":9000},{"p":18,"s":"CSRSS","n":3,"v":8000},{"p":18,"s":"CSRSS","n":5,"v":6500},{"p":18,"s":"CSRSS","n":7,"v":5500},{"p":18,"s":"CSRSS","n":10,"v":5000},{"p":18,"s":"CSRSS","n":13,"v":5200},{"p":18,"s":"CSRSS","n":15,"v":5000},{"p":18,"s":"CSRSS","n":17,"v":4000},{"p":18,"s":"CSRSS","n":19,"v":2200},{"p":18,"s":"CSRSS","n":20,"v":1000},
{"p":18,"s":"MSRSS","n":1,"v":10500},{"p":18,"s":"MSRSS","n":3,"v":9000},{"p":18,"s":"MSRSS","n":5,"v":7000},{"p":18,"s":"MSRSS","n":7,"v":5800},{"p":18,"s":"MSRSS","n":10,"v":5500},{"p":18,"s":"MSRSS","n":13,"v":6200},{"p":18,"s":"MSRSS","n":15,"v":6200},{"p":18,"s":"MSRSS","n":17,"v":5000},{"p":18,"s":"MSRSS","n":19,"v":3000},{"p":18,"s":"MSRSS","n":20,"v":1500},
{"p":19,"s":"RHA","n":1,"v":10000},{"p":19,"s":"RHA","n":3,"v":9000},{"p":19,"s":"RHA","n":5,"v":7500},{"p":19,"s":"RHA","n":7,"v":6500},{"p":19,"s":"RHA","n":10,"v":6500},{"p":19,"s":"RHA","n":13,"v":7000},{"p":19,"s":"RHA","n":15,"v":6500},{"p":19,"s":"RHA","n":17,"v":5000},{"p":19,"s":"RHA","n":19,"v":2800},{"p":19,"s":"RHA","n":20,"v":1200},
{"p":19,"s":"ELF","n":1,"v":9000},{"p":19,"s":"ELF","n":3,"v":8900},{"p":19,"s":"ELF","n":5,"v":8700},{"p":19,"s":"ELF","n":7,"v":8300},{"p":19,"s":"ELF","n":10,"v":7400},{"p":19,"s":"ELF","n":13,"v":6200},{"p":19,"s":"ELF","n":15,"v":5100},{"p":19,"s":"ELF","n":17,"v":3700},{"p":19,"s":"ELF","n":19,"v":1800},{"p":19,"s":"ELF","n":20,"v":500},
{"p":19,"s":"CSRSS","n":1,"v":9500},{"p":19,"s":"CSRSS","n":3,"v":8500},{"p":19,"s":"CSRSS","n":5,"v":7000},{"p":19,"s":"CSRSS","n":7,"v":6000},{"p":19,"s":"CSRSS","n":10,"v":5500},{"p":19,"s":"CSRSS","n":13,"v":5500},{"p":19,"s":"CSRSS","n":15,"v":5200},{"p":19,"s":"CSRSS","n":17,"v":4200},{"p":19,"s":"CSRSS","n":19,"v":2300},{"p":19,"s":"CSRSS","n":20,"v":1000},
{"p":19,"s":"MSRSS","n":1,"v":10500},{"p":19,"s":"MSRSS","n":3,"v":9500},{"p":19,"s":"MSRSS","n":5,"v":7800},{"p":19,"s":"MSRSS","n":7,"v":6500},{"p":19,"s":"MSRSS","n":10,"v":6000},{"p":19,"s":"MSRSS","n":13,"v":6500},{"p":19,"s":"MSRSS","n":15,"v":6500},{"p":19,"s":"MSRSS","n":17,"v":5200},{"p":19,"s":"MSRSS","n":19,"v":3000},{"p":19,"s":"MSRSS","n":20,"v":1500},
{"p":20,"s":"RHA","n":1,"v":9000},{"p":20,"s":"RHA","n":3,"v":8000},{"p":20,"s":"RHA","n":5,"v":6500},{"p":20,"s":"RHA","n":7,"v":5500},{"p":20,"s":"RHA","n":10,"v":5500},{"p":20,"s":"RHA","n":13,"v":6000},{"p":20,"s":"RHA","n":15,"v":5500},{"p":20,"s":"RHA","n":17,"v":4200},{"p":20,"s":"RHA","n":19,"v":2400},{"p":20,"s":"RHA","n":20,"v":1000},
{"p":20,"s":"ELF","n":1,"v":8000},{"p":20,"s":"ELF","n":3,"v":7900},{"p":20,"s":"ELF","n":5,"v":7700},{"p":20,"s":"ELF","n":7,"v":7400},{"p":20,"s":"ELF","n":10,"v":6600},{"p":20,"s":"ELF","n":13,"v":5500},{"p":20,"s":"ELF","n":15,"v":4500},{"p":20,"s":"ELF","n":17,"v":3300},{"p":20,"s":"ELF","n":19,"v":1600},{"p":20,"s":"ELF","n":20,"v":500},
{"p":20,"s":"CSRSS","n":1,"v":8500},{"p":20,"s":"CSRSS","n":3,"v":7500},{"p":20,"s":"CSRSS","n":5,"v":6200},{"p":20,"s":"CSRSS","n":7,"v":5200},{"p":20,"s":"CSRSS","n":10,"v":4800},{"p":20,"s":"CSRSS","n":13,"v":4800},{"p":20,"s":"CSRSS","n":15,"v":4600},{"p":20,"s":"CSRSS","n":17,"v":3600},{"p":20,"s":"CSRSS","n":19,"v":2000},{"p":20,"s":"CSRSS","n":20,"v":800},
{"p":20,"s":"MSRSS","n":1,"v":9500},{"p":20,"s":"MSRSS","n":3,"v":8500},{"p":20,"s":"MSRSS","n":5,"v":7000},{"p":20,"s":"MSRSS","n":7,"v":5800},{"p":20,"s":"MSRSS","n":10,"v":5200},{"p":20,"s":"MSRSS","n":13,"v":5500},{"p":20,"s":"MSRSS","n":15,"v":5500},{"p":20,"s":"MSRSS","n":17,"v":4500},{"p":20,"s":"MSRSS","n":19,"v":2600},{"p":20,"s":"MSRSS","n":20,"v":1300}
]},
"columns":5,
"spacing":{"row":28,"column":26.5},
"bounds":"flush",
"resolve":{"legend":{"color":"independent"}},
"concat":[
{"width":82,"height":65,"transform":[{"filter":"datum.p==1"}],"mark":"line","encoding":{"x":{"field":"v","type":"quantitative","scale":{"domain":[0,30000]},"axis":{"values":[0,10000,20000,30000],"format":",d"},"title":"Shear force V (kN)"},"y":{"field":"n","type":"quantitative","scale":{"domain":[0,20]},"axis":{"values":[0,5,10,15,20]},"title":"Story N"},"color":{"field":"s","type":"nominal","title":null,"scale":{"domain":["RHA","ELF","CSRSS","MSRSS"],"range":["#333333","#ee3333","#1f78e6","#1aa05a"]},"legend":{"labelExpr":"datum.label+'-LA1'"}},"order":{"field":"n"}}},
{"width":82,"height":65,"transform":[{"filter":"datum.p==2"}],"mark":"line","encoding":{"x":{"field":"v","type":"quantitative","scale":{"domain":[0,30000]},"axis":{"values":[0,10000,20000,30000],"format":",d"},"title":"Shear force V (kN)"},"y":{"field":"n","type":"quantitative","scale":{"domain":[0,20]},"axis":{"values":[0,5,10,15,20]},"title":"Story N"},"color":{"field":"s","type":"nominal","title":null,"scale":{"domain":["RHA","ELF","CSRSS","MSRSS"],"range":["#333333","#ee3333","#1f78e6","#1aa05a"]},"legend":{"labelExpr":"datum.label+'-LA2'"}},"order":{"field":"n"}}},
{"width":82,"height":65,"transform":[{"filter":"datum.p==3"}],"mark":"line","encoding":{"x":{"field":"v","type":"quantitative","scale":{"domain":[0,30000]},"axis":{"values":[0,10000,20000,30000],"format":",d"},"title":"Shear force V (kN)"},"y":{"field":"n","type":"quantitative","scale":{"domain":[0,20]},"axis":{"values":[0,5,10,15,20]},"title":"Story N"},"color":{"field":"s","type":"nominal","title":null,"scale":{"domain":["RHA","ELF","CSRSS","MSRSS"],"range":["#333333","#ee3333","#1f78e6","#1aa05a"]},"legend":{"labelExpr":"datum.label+'-LA3'"}},"order":{"field":"n"}}},
{"width":82,"height":65,"transform":[{"filter":"datum.p==4"}],"mark":"line","encoding":{"x":{"field":"v","type":"quantitative","scale":{"domain":[0,30000]},"axis":{"values":[0,10000,20000,30000],"format":",d"},"title":"Shear force V (kN)"},"y":{"field":"n","type":"quantitative","scale":{"domain":[0,20]},"axis":{"values":[0,5,10,15,20]},"title":"Story N"},"color":{"field":"s","type":"nominal","title":null,"scale":{"domain":["RHA","ELF","CSRSS","MSRSS"],"range":["#333333","#ee3333","#1f78e6","#1aa05a"]},"legend":{"labelExpr":"datum.label+'-LA4'"}},"order":{"field":"n"}}},
{"width":82,"height":65,"transform":[{"filter":"datum.p==5"}],"mark":"line","encoding":{"x":{"field":"v","type":"quantitative","scale":{"domain":[0,30000]},"axis":{"values":[0,10000,20000,30000],"format":",d"},"title":"Shear force V (kN)"},"y":{"field":"n","type":"quantitative","scale":{"domain":[0,20]},"axis":{"values":[0,5,10,15,20]},"title":"Story N"},"color":{"field":"s","type":"nominal","title":null,"scale":{"domain":["RHA","ELF","CSRSS","MSRSS"],"range":["#333333","#ee3333","#1f78e6","#1aa05a"]},"legend":{"labelExpr":"datum.label+'-LA5'"}},"order":{"field":"n"}}},
{"width":82,"height":65,"transform":[{"filter":"datum.p==6"}],"mark":"line","encoding":{"x":{"field":"v","type":"quantitative","scale":{"domain":[0,30000]},"axis":{"values":[0,10000,20000,30000],"format":",d"},"title":"Shear force V (kN)"},"y":{"field":"n","type":"quantitative","scale":{"domain":[0,20]},"axis":{"values":[0,5,10,15,20]},"title":"Story N"},"color":{"field":"s","type":"nominal","title":null,"scale":{"domain":["RHA","ELF","CSRSS","MSRSS"],"range":["#333333","#ee3333","#1f78e6","#1aa05a"]},"legend":{"labelExpr":"datum.label+'-LA6'"}},"order":{"field":"n"}}},
{"width":82,"height":65,"transform":[{"filter":"datum.p==7"}],"mark":"line","encoding":{"x":{"field":"v","type":"quantitative","scale":{"domain":[0,30000]},"axis":{"values":[0,10000,20000,30000],"format":",d"},"title":"Shear force V (kN)"},"y":{"field":"n","type":"quantitative","scale":{"domain":[0,20]},"axis":{"values":[0,5,10,15,20]},"title":"Story N"},"color":{"field":"s","type":"nominal","title":null,"scale":{"domain":["RHA","ELF","CSRSS","MSRSS"],"range":["#333333","#ee3333","#1f78e6","#1aa05a"]},"legend":{"labelExpr":"datum.label+'-LA7'"}},"order":{"field":"n"}}},
{"width":82,"height":65,"transform":[{"filter":"datum.p==8"}],"mark":"line","encoding":{"x":{"field":"v","type":"quantitative","scale":{"domain":[0,30000]},"axis":{"values":[0,10000,20000,30000],"format":",d"},"title":"Shear force V (kN)"},"y":{"field":"n","type":"quantitative","scale":{"domain":[0,20]},"axis":{"values":[0,5,10,15,20]},"title":"Story N"},"color":{"field":"s","type":"nominal","title":null,"scale":{"domain":["RHA","ELF","CSRSS","MSRSS"],"range":["#333333","#ee3333","#1f78e6","#1aa05a"]},"legend":{"labelExpr":"datum.label+'-LA8'"}},"order":{"field":"n"}}},
{"width":82,"height":65,"transform":[{"filter":"datum.p==9"}],"mark":"line","encoding":{"x":{"field":"v","type":"quantitative","scale":{"domain":[0,30000]},"axis":{"values":[0,10000,20000,30000],"format":",d"},"title":"Shear force V (kN)"},"y":{"field":"n","type":"quantitative","scale":{"domain":[0,20]},"axis":{"values":[0,5,10,15,20]},"title":"Story N"},"color":{"field":"s","type":"nominal","title":null,"scale":{"domain":["RHA","ELF","CSRSS","MSRSS"],"range":["#333333","#ee3333","#1f78e6","#1aa05a"]},"legend":{"labelExpr":"datum.label+'-LA9'"}},"order":{"field":"n"}}},
{"width":82,"height":65,"transform":[{"filter":"datum.p==10"}],"mark":"line","encoding":{"x":{"field":"v","type":"quantitative","scale":{"domain":[0,30000]},"axis":{"values":[0,10000,20000,30000],"format":",d"},"title":"Shear force V (kN)"},"y":{"field":"n","type":"quantitative","scale":{"domain":[0,20]},"axis":{"values":[0,5,10,15,20]},"title":"Story N"},"color":{"field":"s","type":"nominal","title":null,"scale":{"domain":["RHA","ELF","CSRSS","MSRSS"],"range":["#333333","#ee3333","#1f78e6","#1aa05a"]},"legend":{"labelExpr":"datum.label+'-LA10'"}},"order":{"field":"n"}}},
{"width":82,"height":65,"transform":[{"filter":"datum.p==11"}],"mark":"line","encoding":{"x":{"field":"v","type":"quantitative","scale":{"domain":[0,30000]},"axis":{"values":[0,10000,20000,30000],"format":",d"},"title":"Shear force V (kN)"},"y":{"field":"n","type":"quantitative","scale":{"domain":[0,20]},"axis":{"values":[0,5,10,15,20]},"title":"Story N"},"color":{"field":"s","type":"nominal","title":null,"scale":{"domain":["RHA","ELF","CSRSS","MSRSS"],"range":["#333333","#ee3333","#1f78e6","#1aa05a"]},"legend":{"labelExpr":"datum.label+'-LA11'"}},"order":{"field":"n"}}},
{"width":82,"height":65,"transform":[{"filter":"datum.p==12"}],"mark":"line","encoding":{"x":{"field":"v","type":"quantitative","scale":{"domain":[0,30000]},"axis":{"values":[0,10000,20000,30000],"format":",d"},"title":"Shear force V (kN)"},"y":{"field":"n","type":"quantitative","scale":{"domain":[0,20]},"axis":{"values":[0,5,10,15,20]},"title":"Story N"},"color":{"field":"s","type":"nominal","title":null,"scale":{"domain":["RHA","ELF","CSRSS","MSRSS"],"range":["#333333","#ee3333","#1f78e6","#1aa05a"]},"legend":{"labelExpr":"datum.label+'-LA12'"}},"order":{"field":"n"}}},
{"width":82,"height":65,"transform":[{"filter":"datum.p==13"}],"mark":"line","encoding":{"x":{"field":"v","type":"quantitative","scale":{"domain":[0,30000]},"axis":{"values":[0,10000,20000,30000],"format":",d"},"title":"Shear force V (kN)"},"y":{"field":"n","type":"quantitative","scale":{"domain":[0,20]},"axis":{"values":[0,5,10,15,20]},"title":"Story N"},"color":{"field":"s","type":"nominal","title":null,"scale":{"domain":["RHA","ELF","CSRSS","MSRSS"],"range":["#333333","#ee3333","#1f78e6","#1aa05a"]},"legend":{"labelExpr":"datum.label+'-LA13'"}},"order":{"field":"n"}}},
{"width":82,"height":65,"transform":[{"filter":"datum.p==14"}],"mark":"line","encoding":{"x":{"field":"v","type":"quantitative","scale":{"domain":[0,30000]},"axis":{"values":[0,10000,20000,30000],"format":",d"},"title":"Shear force V (kN)"},"y":{"field":"n","type":"quantitative","scale":{"domain":[0,20]},"axis":{"values":[0,5,10,15,20]},"title":"Story N"},"color":{"field":"s","type":"nominal","title":null,"scale":{"domain":["RHA","ELF","CSRSS","MSRSS"],"range":["#333333","#ee3333","#1f78e6","#1aa05a"]},"legend":{"labelExpr":"datum.label+'-LA14'"}},"order":{"field":"n"}}},
{"width":82,"height":65,"transform":[{"filter":"datum.p==15"}],"mark":"line","encoding":{"x":{"field":"v","type":"quantitative","scale":{"domain":[0,30000]},"axis":{"values":[0,10000,20000,30000],"format":",d"},"title":"Shear force V (kN)"},"y":{"field":"n","type":"quantitative","scale":{"domain":[0,20]},"axis":{"values":[0,5,10,15,20]},"title":"Story N"},"color":{"field":"s","type":"nominal","title":null,"scale":{"domain":["RHA","ELF","CSRSS","MSRSS"],"range":["#333333","#ee3333","#1f78e6","#1aa05a"]},"legend":{"labelExpr":"datum.label+'-LA15'"}},"order":{"field":"n"}}},
{"width":82,"height":65,"transform":[{"filter":"datum.p==16"}],"mark":"line","encoding":{"x":{"field":"v","type":"quantitative","scale":{"domain":[0,30000]},"axis":{"values":[0,10000,20000,30000],"format":",d"},"title":"Shear force V (kN)"},"y":{"field":"n","type":"quantitative","scale":{"domain":[0,20]},"axis":{"values":[0,5,10,15,20]},"title":"Story N"},"color":{"field":"s","type":"nominal","title":null,"scale":{"domain":["RHA","ELF","CSRSS","MSRSS"],"range":["#333333","#ee3333","#1f78e6","#1aa05a"]},"legend":{"labelExpr":"datum.label+'-LA16'"}},"order":{"field":"n"}}},
{"width":82,"height":65,"transform":[{"filter":"datum.p==17"}],"mark":"line","encoding":{"x":{"field":"v","type":"quantitative","scale":{"domain":[0,30000]},"axis":{"values":[0,10000,20000,30000],"format":",d"},"title":"Shear force V (kN)"},"y":{"field":"n","type":"quantitative","scale":{"domain":[0,20]},"axis":{"values":[0,5,10,15,20]},"title":"Story N"},"color":{"field":"s","type":"nominal","title":null,"scale":{"domain":["RHA","ELF","CSRSS","MSRSS"],"range":["#333333","#ee3333","#1f78e6","#1aa05a"]},"legend":{"labelExpr":"datum.label+'-LA17'"}},"order":{"field":"n"}}},
{"width":82,"height":65,"transform":[{"filter":"datum.p==18"}],"mark":"line","encoding":{"x":{"field":"v","type":"quantitative","scale":{"domain":[0,30000]},"axis":{"values":[0,10000,20000,30000],"format":",d"},"title":"Shear force V (kN)"},"y":{"field":"n","type":"quantitative","scale":{"domain":[0,20]},"axis":{"values":[0,5,10,15,20]},"title":"Story N"},"color":{"field":"s","type":"nominal","title":null,"scale":{"domain":["RHA","ELF","CSRSS","MSRSS"],"range":["#333333","#ee3333","#1f78e6","#1aa05a"]},"legend":{"labelExpr":"datum.label+'-LA18'"}},"order":{"field":"n"}}},
{"width":82,"height":65,"transform":[{"filter":"datum.p==19"}],"mark":"line","encoding":{"x":{"field":"v","type":"quantitative","scale":{"domain":[0,30000]},"axis":{"values":[0,10000,20000,30000],"format":",d"},"title":"Shear force V (kN)"},"y":{"field":"n","type":"quantitative","scale":{"domain":[0,20]},"axis":{"values":[0,5,10,15,20]},"title":"Story N"},"color":{"field":"s","type":"nominal","title":null,"scale":{"domain":["RHA","ELF","CSRSS","MSRSS"],"range":["#333333","#ee3333","#1f78e6","#1aa05a"]},"legend":{"labelExpr":"datum.label+'-LA19'"}},"order":{"field":"n"}}},
{"width":82,"height":65,"transform":[{"filter":"datum.p==20"}],"mark":"line","encoding":{"x":{"field":"v","type":"quantitative","scale":{"domain":[0,30000]},"axis":{"values":[0,10000,20000,30000],"format":",d"},"title":"Shear force V (kN)"},"y":{"field":"n","type":"quantitative","scale":{"domain":[0,20]},"axis":{"values":[0,5,10,15,20]},"title":"Story N"},"color":{"field":"s","type":"nominal","title":null,"scale":{"domain":["RHA","ELF","CSRSS","MSRSS"],"range":["#333333","#ee3333","#1f78e6","#1aa05a"]},"legend":{"labelExpr":"datum.label+'-LA20'"}},"order":{"field":"n"}}}
]
}
